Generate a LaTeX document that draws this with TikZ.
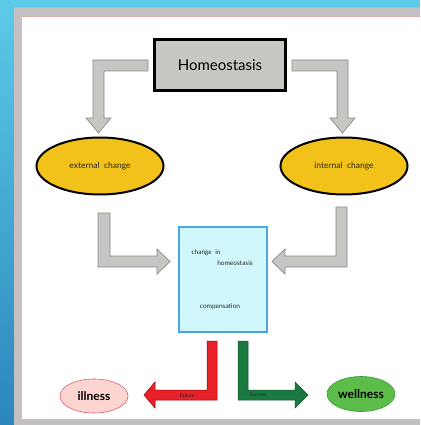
\documentclass[tikz,border=0pt]{standalone}
\usepackage{fontspec}
\setmainfont{Lato}
\usetikzlibrary{shapes.geometric}
\definecolor{bgtop}{HTML}{5CCBE8}
\definecolor{bgbot}{HTML}{2C86BC}
\definecolor{frame}{HTML}{C3BFC3}
\definecolor{boxgray}{HTML}{C9C7C3}
\definecolor{arrgray}{HTML}{C8C6C2}
\definecolor{arredge}{HTML}{8A8885}
\definecolor{gold}{HTML}{F2C21A}
\definecolor{cyanfill}{HTML}{D0F8FC}
\definecolor{cyanedge}{HTML}{4BA6E6}
\definecolor{redarr}{HTML}{E8202A}
\definecolor{greenarr}{HTML}{1A7A40}
\definecolor{pinkfill}{HTML}{FDD5D0}
\definecolor{pinkedge}{HTML}{E0606A}
\definecolor{wellfill}{HTML}{5CBD4A}
\definecolor{welledge}{HTML}{3E9A36}
\tikzset{
  hollowarrow/.style={fill=arrgray, draw=arredge, line width=0.7pt, line join=miter},
  goldellipse/.style={ellipse, fill=gold, draw=black, line width=2pt, minimum width=127pt, minimum height=57pt, inner sep=0pt},
  handtext/.style={font=\fontsize{8.5}{9}\selectfont, text=black!85},
  boxtext/.style={font=\fontsize{6.5}{7}\selectfont, text=black!85},
}
\begin{document}
\begin{tikzpicture}[x=1pt,y=-1pt]
\useasboundingbox (0,0) rectangle (420,425);
% background
\fill[white] (0,0) rectangle (420,425);
\shade[top color=bgtop, bottom color=bgbot] (0,0) rectangle (14,425);
\fill[bgtop] (0,0) rectangle (420,7);
\fill[frame] (14,7) rectangle (420,16);
\fill[frame] (14,7) rectangle (22,425);
\fill[frame] (14,419) rectangle (420,425);
\draw[pink!70!gray, line width=0.6pt] (14,7.5) -- (420,7.5);
\draw[pink!70!gray, line width=0.6pt] (22,16) -- (420,16);

% top node
\node[draw=black, fill=boxgray, line width=2.2pt, minimum width=131pt, minimum height=51pt, inner sep=0pt,
  font=\fontsize{15}{16}\selectfont] (homeo) at (220,65) {Homeostasis};

% top arrows
\draw[hollowarrow] (148,60) -- (93,60) -- (93,118) -- (86,118) -- (98.5,133) -- (111,118) -- (104,118) -- (104,71) -- (148,71) -- cycle;
\draw[hollowarrow] (292,60) -- (348,60) -- (348,118) -- (355,118) -- (342.5,133) -- (330,118) -- (337,118) -- (337,71) -- (292,71) -- cycle;

% ellipses
\node[goldellipse, handtext] (ext) at (100,166) {external \ change};
\node[goldellipse, handtext] (int) at (344,166) {internal \ change};

% lower gray arrows
\draw[hollowarrow] (98,213) -- (110,213) -- (110,256) -- (157,256) -- (157,249) -- (170,261.5) -- (157,274) -- (157,267) -- (98,267) -- cycle;
\draw[hollowarrow] (336,207) -- (347,207) -- (347,267) -- (285,267) -- (285,274) -- (272,261.5) -- (285,249) -- (285,256) -- (336,256) -- cycle;

% center box
\node[draw=cyanedge, fill=cyanfill, line width=2pt, minimum width=88pt, minimum height=105pt, inner sep=0pt] (center) at (222.5,279.5) {};
\node[boxtext] (t1) at (206,253) {change \ in};
\node[boxtext] (t2) at (235,263) {homeostasis};
\node[boxtext] (t3) at (220,307) {compensation};

% red and green arrows
\draw[fill=redarr, draw=red!60!black, line width=0.5pt] (207,341) -- (217,341) -- (217,400) -- (155,400) -- (155,408) -- (144,395) -- (155,382) -- (155,390) -- (207,390) -- cycle;
\draw[fill=greenarr, draw=greenarr!70!black, line width=0.5pt] (238,341) -- (248,341) -- (248,390) -- (295,390) -- (295,382) -- (308,395) -- (295,408) -- (295,400) -- (238,400) -- cycle;
\node[font=\fontsize{5}{6}\selectfont, text=black!85] (fail) at (187,396) {Failure};
\node[font=\fontsize{5}{6}\selectfont, text=black!85] (succ) at (258,395) {Success};

% outcome ellipses
\node[ellipse, fill=pinkfill, draw=pinkedge, line width=0.6pt, minimum width=68pt, minimum height=34pt, inner sep=0pt,
  font=\fontsize{12}{13}\selectfont\bfseries] (ill) at (94,396) {illness};
\node[ellipse, fill=wellfill, draw=welledge, line width=0.6pt, minimum width=68pt, minimum height=35pt, inner sep=0pt,
  font=\fontsize{12}{13}\selectfont\bfseries] (well) at (361,394) {wellness};
\end{tikzpicture}
\end{document}
